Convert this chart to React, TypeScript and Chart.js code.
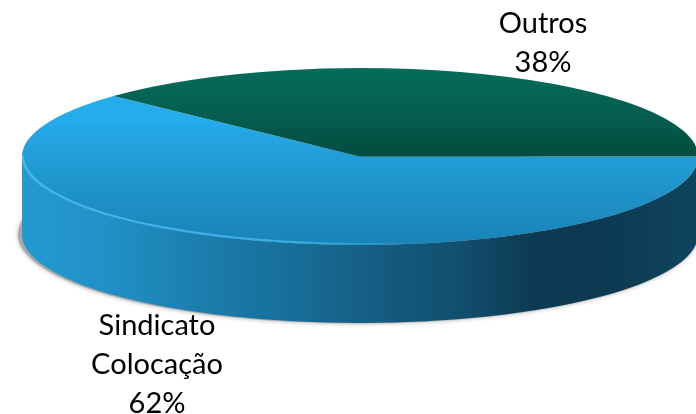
import React, { useEffect, useRef } from "react";
import { Chart, registerables } from "chart.js";

Chart.register(...registerables);

const categories = ["Sindicato Colocação", "Outros"];
const labelLines = [["Sindicato", "Colocação"], ["Outros"]];
const values = [62, 38];

const WIDTH = 696;
const HEIGHT = 414;
const CX = 360;
const CY = 156.5;
const RX = 338;
const RY = 88.5;
const DEPTH = 78;
const FONT = '29px Lato, "Open Sans", sans-serif';
const LINE_H = 39;
const labelAnchors = [
  { x: 157, y: 335 },
  { x: 543, y: 33 },
];
const wallStops: [number, string][] = [
  [0, "#2399d2"],
  [0.12, "#2191c6"],
  [0.27, "#1b7dae"],
  [0.42, "#176b96"],
  [0.5, "#165f85"],
  [0.64, "#115070"],
  [0.76, "#0d3a52"],
  [0.87, "#0c3a52"],
  [1, "#10455f"],
];

function chartRadius(chart: any) {
  return Math.min(chart.chartArea.width, chart.chartArea.height) / 2;
}

function arcFill(context: any) {
  const chart = context.chart;
  if (!chart.chartArea) return "#229dd6";
  const midY = (chart.chartArea.top + chart.chartArea.bottom) / 2;
  const r = chartRadius(chart);
  if (context.dataIndex === 1) {
    const g = chart.ctx.createLinearGradient(0, midY - r, 0, midY);
    g.addColorStop(0, "#066c5b");
    g.addColorStop(0.5, "#055f50");
    g.addColorStop(1, "#044c3f");
    return g;
  }
  const g = chart.ctx.createLinearGradient(0, midY - r, 0, midY + r);
  g.addColorStop(0, "#24aeed");
  g.addColorStop(0.3, "#24aceb");
  g.addColorStop(0.5, "#229dd6");
  g.addColorStop(1, "#1983b7");
  return g;
}

const pie3d = {
  id: "pie3d",
  beforeDatasetsDraw(chart: any) {
    const ctx = chart.ctx;
    const arcs = chart.getDatasetMeta(0).data;

    // soft drop shadow under the disc
    ctx.save();
    ctx.shadowColor = "rgba(110,110,110,0.7)";
    ctx.shadowBlur = 4;
    ctx.fillStyle = "rgba(165,165,165,0.85)";
    ctx.beginPath();
    ctx.ellipse(CX - 2, CY + DEPTH, RX + 2, RY + 0.5, 0, 0, Math.PI * 2);
    ctx.fill();
    ctx.restore();

    // side wall of each slice, only where it faces the viewer
    const wall = ctx.createLinearGradient(CX - RX, 0, CX + RX, 0);
    wallStops.forEach(([p, c]) => wall.addColorStop(p, c));
    arcs.forEach((arc: any) => {
      const a0 = Math.max(arc.startAngle, 0);
      const a1 = Math.min(arc.endAngle, Math.PI);
      if (a1 <= a0) return;
      ctx.save();
      ctx.fillStyle = wall;
      ctx.beginPath();
      ctx.ellipse(CX, CY, RX, RY, 0, a0, a1);
      ctx.ellipse(CX, CY + DEPTH, RX, RY, 0, a1, a0, true);
      ctx.closePath();
      ctx.fill();
      ctx.restore();
    });

    // squash the flat pie into the tilted top face
    const first = arcs[0];
    const r = first.outerRadius;
    ctx.save();
    ctx.translate(CX, CY);
    ctx.scale(RX / r, RY / r);
    ctx.translate(-first.x, -first.y);
  },
  afterDatasetsDraw(chart: any) {
    const ctx = chart.ctx;
    ctx.restore();

    // bright bevel along the front-left rim
    const rim = ctx.createLinearGradient(CX - RX, 0, CX + 60, 0);
    rim.addColorStop(0, "rgba(70,190,248,0.9)");
    rim.addColorStop(0.7, "rgba(70,190,248,0.7)");
    rim.addColorStop(1, "rgba(70,190,248,0)");
    ctx.save();
    ctx.strokeStyle = rim;
    ctx.lineWidth = 2;
    ctx.beginPath();
    ctx.ellipse(CX, CY - 1, RX - 1, RY, 0, Math.PI * 0.45, Math.PI);
    ctx.stroke();
    ctx.restore();

    // labels
    const total = values.reduce((a, b) => a + b, 0);
    ctx.save();
    ctx.font = FONT;
    ctx.fillStyle = "#000";
    ctx.textAlign = "center";
    ctx.textBaseline = "alphabetic";
    categories.forEach((_, i) => {
      const lines = [...labelLines[i], `${Math.round((values[i] / total) * 100)}%`];
      lines.forEach((line, k) => {
        ctx.fillText(line, labelAnchors[i].x, labelAnchors[i].y + k * LINE_H);
      });
    });
    ctx.restore();
  },
};

export default function App() {
  const ref = useRef<HTMLCanvasElement>(null);
  useEffect(() => {
    const chart = new Chart(ref.current!, {
      type: "pie",
      data: {
        labels: categories,
        datasets: [
          {
            data: values,
            backgroundColor: arcFill as any,
            borderWidth: 0,
            hoverOffset: 0,
            clip: false as any,
          },
        ],
      },
      options: {
        animation: false,
        responsive: false,
        rotation: 90,
        events: [],
        layout: { padding: 0 },
        plugins: { legend: { display: false }, tooltip: { enabled: false } },
      },
      plugins: [pie3d],
    });
    return () => chart.destroy();
  }, []);
  return (
    <div style={{ position: "fixed", left: 0, top: 0, width: WIDTH, height: HEIGHT, background: "#fff" }}>
      <canvas ref={ref} width={WIDTH} height={HEIGHT} style={{ display: "block" }} />
    </div>
  );
}
